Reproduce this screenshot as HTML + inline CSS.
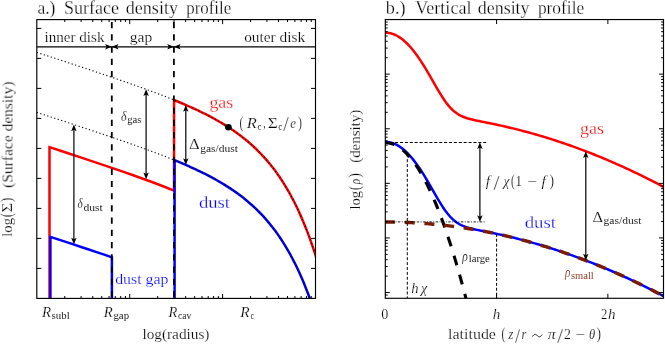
<!DOCTYPE html>
<html><head><meta charset="utf-8"><title>Density profiles</title>
<style>html,body{margin:0;padding:0;background:#fff}svg{display:block}text{font-family:"Liberation Serif",serif}</style></head>
<body>
<svg width="665" height="345" viewBox="0 0 665 345">
<rect width="665" height="345" fill="#fff"/>
<defs><clipPath id="c1"><rect x="36.80" y="19.60" width="278.70" height="278.80"/></clipPath><clipPath id="c2"><rect x="385.30" y="19.55" width="278.20" height="278.75"/></clipPath></defs>
<g clip-path="url(#c1)" fill="none" stroke-linejoin="miter">
<path d="M49.50,300.40 L49.50,147.15 L59.88,150.55 L70.26,153.96 L80.64,157.39 L91.02,160.84 L101.40,164.32 L111.78,167.83 L122.15,171.40 L132.53,175.02 L142.91,178.73 L153.29,182.54 L163.67,186.49 L174.05,190.61 L174.05,100.01 L176.44,100.99 L178.83,101.98 L181.22,102.98 L183.61,104.00 L186.00,105.04 L188.40,106.09 L190.79,107.15 L193.18,108.24 L195.57,109.34 L197.96,110.47 L200.35,111.61 L202.74,112.78 L205.13,113.98 L207.52,115.19 L209.91,116.44 L212.30,117.72 L214.69,119.02 L217.09,120.36 L219.48,121.73 L221.87,123.14 L224.26,124.59 L226.65,126.08 L229.04,127.61 L231.43,129.19 L233.82,130.82 L236.21,132.51 L238.60,134.24 L240.99,136.04 L243.38,137.90 L245.78,139.82 L248.17,141.82 L250.56,143.89 L252.95,146.04 L255.34,148.27 L257.73,150.60 L260.12,153.01 L262.51,155.53 L264.90,158.16 L267.29,160.89 L269.68,163.75 L272.07,166.74 L274.47,169.86 L276.86,173.12 L279.25,176.54 L281.64,180.11 L284.03,183.86 L286.42,187.79 L288.81,191.91 L291.20,196.24 L293.59,200.79 L295.98,205.56 L298.37,210.58 L300.76,215.86 L303.15,221.41 L305.55,227.26 L307.94,233.41 L310.33,239.89 L312.72,246.73 L315.11,253.93 L317.50,261.52" stroke="#ff0000" stroke-width="2.5"/>
<path d="M50.40,300.40 L50.40,236.85 L58.09,239.36 L65.78,241.89 L73.46,244.42 L81.15,246.96 L88.84,249.51 L96.53,252.08 L104.21,254.67 L111.90,257.28 L111.90,300.40" stroke="#0000ff" stroke-width="2.5"/>
<path d="M174.60,300.40 L174.60,160.23 L176.95,161.20 L179.30,162.17 L181.64,163.16 L183.99,164.17 L186.34,165.18 L188.69,166.22 L191.04,167.27 L193.39,168.33 L195.73,169.42 L198.08,170.53 L200.43,171.65 L202.78,172.80 L205.13,173.97 L207.48,175.17 L209.82,176.39 L212.17,177.65 L214.52,178.93 L216.87,180.24 L219.22,181.58 L221.57,182.96 L223.91,184.38 L226.26,185.84 L228.61,187.34 L230.96,188.88 L233.31,190.47 L235.66,192.11 L238.00,193.80 L240.35,195.55 L242.70,197.36 L245.05,199.23 L247.40,201.17 L249.75,203.18 L252.09,205.26 L254.44,207.43 L256.79,209.67 L259.14,212.01 L261.49,214.44 L263.84,216.97 L266.19,219.61 L268.53,222.36 L270.88,225.23 L273.23,228.23 L275.58,231.36 L277.93,234.63 L280.27,238.05 L282.62,241.64 L284.97,245.39 L287.32,249.32 L289.67,253.44 L292.02,257.77 L294.37,262.30 L296.71,267.07 L299.06,272.07 L301.41,277.33 L303.76,282.86 L306.11,288.67 L308.45,294.79 L310.80,301.22 L313.15,308.00 L315.50,315.14" stroke="#0000ff" stroke-width="2.5"/>
<path d="M111.80,298.40 L111.80,19.60" stroke="#000" stroke-width="1.8" stroke-dasharray="6.2 6.02" stroke-dashoffset="-1.3"/>
<path d="M173.90,298.40 L173.90,19.60" stroke="#000" stroke-width="1.8" stroke-dasharray="6.2 6.02" stroke-dashoffset="-1.3"/>
<path d="M36.80,52.41 L39.92,53.43 L43.04,54.44 L46.16,55.46 L49.28,56.48 L52.39,57.50 L55.51,58.52 L58.63,59.54 L61.75,60.56 L64.87,61.59 L67.99,62.61 L71.11,63.64 L74.23,64.67 L77.35,65.70 L80.46,66.73 L83.58,67.77 L86.70,68.80 L89.82,69.84 L92.94,70.88 L96.06,71.92 L99.18,72.97 L102.30,74.02 L105.42,75.07 L108.53,76.13 L111.65,77.19 L114.77,78.26 L117.89,79.33 L121.01,80.40 L124.13,81.48 L127.25,82.57 L130.37,83.66 L133.49,84.76 L136.60,85.87 L139.72,86.98 L142.84,88.10 L145.96,89.24 L149.08,90.38 L152.20,91.53 L155.32,92.70 L158.44,93.88 L161.56,95.07 L164.67,96.28 L167.79,97.50 L170.91,98.74 L174.03,100.00 L177.15,101.28 L180.27,102.58 L183.39,103.90 L186.51,105.26 L189.63,106.63 L192.74,108.04 L195.86,109.48 L198.98,110.96 L202.10,112.47 L205.22,114.02 L208.34,115.62 L211.46,117.26 L214.58,118.96 L217.70,120.71 L220.81,122.52 L223.93,124.39 L227.05,126.34 L230.17,128.36 L233.29,130.46 L236.41,132.65 L239.53,134.93 L242.65,137.32 L245.77,139.82 L248.88,142.43 L252.00,145.18 L255.12,148.07 L258.24,151.11 L261.36,154.31 L264.48,157.68 L267.60,161.25 L270.72,165.03 L273.84,169.02 L276.95,173.26 L280.07,177.75 L283.19,182.53 L286.31,187.61 L289.43,193.02 L292.55,198.78 L295.67,204.92 L298.79,211.47 L301.91,218.47 L305.02,225.95 L308.14,233.96 L311.26,242.52 L314.38,251.69 L317.50,261.52" stroke="#000" stroke-width="1.1" stroke-dasharray="1.2 2.46"/>
<path d="M36.80,112.41 L39.92,113.43 L43.04,114.44 L46.16,115.46 L49.28,116.48 L52.39,117.50 L55.51,118.52 L58.63,119.54 L61.75,120.56 L64.87,121.59 L67.99,122.61 L71.11,123.64 L74.23,124.67 L77.35,125.70 L80.46,126.73 L83.58,127.77 L86.70,128.80 L89.82,129.84 L92.94,130.88 L96.06,131.92 L99.18,132.97 L102.30,134.02 L105.42,135.07 L108.53,136.13 L111.65,137.19 L114.77,138.26 L117.89,139.33 L121.01,140.40 L124.13,141.48 L127.25,142.57 L130.37,143.66 L133.49,144.76 L136.60,145.87 L139.72,146.98 L142.84,148.10 L145.96,149.24 L149.08,150.38 L152.20,151.53 L155.32,152.70 L158.44,153.88 L161.56,155.07 L164.67,156.28 L167.79,157.50 L170.91,158.74 L174.03,160.00 L177.15,161.28 L180.27,162.58 L183.39,163.90 L186.51,165.26 L189.63,166.63 L192.74,168.04 L195.86,169.48 L198.98,170.96 L202.10,172.47 L205.22,174.02 L208.34,175.62 L211.46,177.26 L214.58,178.96 L217.70,180.71 L220.81,182.52 L223.93,184.39 L227.05,186.34 L230.17,188.36 L233.29,190.46 L236.41,192.65 L239.53,194.93 L242.65,197.32 L245.77,199.82 L248.88,202.43 L252.00,205.18 L255.12,208.07 L258.24,211.11 L261.36,214.31 L264.48,217.68 L267.60,221.25 L270.72,225.03 L273.84,229.02 L276.95,233.26 L280.07,237.75 L283.19,242.53 L286.31,247.61 L289.43,253.02 L292.55,258.78 L295.67,264.92 L298.79,271.47 L301.91,278.47 L305.02,285.95 L308.14,293.96 L311.26,302.52 L314.38,311.69 L317.50,321.52" stroke="#000" stroke-width="1.1" stroke-dasharray="1.2 2.46"/>
</g>
<line x1="36.80" y1="46.80" x2="111.80" y2="46.80" stroke="#000" stroke-width="1.2"/>
<polygon points="0,0 -2.7,6.7 0,5.2 2.7,6.7" transform="translate(111.80,46.80) rotate(90.0)" fill="#000"/>
<line x1="111.80" y1="46.80" x2="173.90" y2="46.80" stroke="#000" stroke-width="1.2"/>
<polygon points="0,0 -2.7,6.7 0,5.2 2.7,6.7" transform="translate(111.80,46.80) rotate(-90.0)" fill="#000"/>
<polygon points="0,0 -2.7,6.7 0,5.2 2.7,6.7" transform="translate(173.90,46.80) rotate(90.0)" fill="#000"/>
<line x1="173.90" y1="46.80" x2="315.50" y2="46.80" stroke="#000" stroke-width="1.2"/>
<polygon points="0,0 -2.7,6.7 0,5.2 2.7,6.7" transform="translate(173.90,46.80) rotate(-90.0)" fill="#000"/>
<line x1="146.10" y1="92.29" x2="146.10" y2="176.29" stroke="#000" stroke-width="1.2"/>
<polygon points="0,0 -2.7,6.7 0,5.2 2.7,6.7" transform="translate(146.10,89.29) rotate(0.0)" fill="#000"/>
<polygon points="0,0 -2.7,6.7 0,5.2 2.7,6.7" transform="translate(146.10,179.29) rotate(180.0)" fill="#000"/>
<line x1="73.90" y1="127.56" x2="73.90" y2="241.56" stroke="#000" stroke-width="1.2"/>
<polygon points="0,0 -2.7,6.7 0,5.2 2.7,6.7" transform="translate(73.90,124.56) rotate(0.0)" fill="#000"/>
<polygon points="0,0 -2.7,6.7 0,5.2 2.7,6.7" transform="translate(73.90,244.56) rotate(180.0)" fill="#000"/>
<line x1="185.80" y1="107.95" x2="185.80" y2="161.95" stroke="#000" stroke-width="1.2"/>
<polygon points="0,0 -2.7,6.7 0,5.2 2.7,6.7" transform="translate(185.80,104.95) rotate(0.0)" fill="#000"/>
<polygon points="0,0 -2.7,6.7 0,5.2 2.7,6.7" transform="translate(185.80,164.95) rotate(180.0)" fill="#000"/>
<circle cx="228.40" cy="127.20" r="3.3" fill="#000"/>
<rect x="36.80" y="19.60" width="278.70" height="278.80" fill="none" stroke="#000" stroke-width="1.15"/>
<path d="M64.77,298.40 v-2.40 M64.77,19.60 v2.40 M81.12,298.40 v-2.40 M81.12,19.60 v2.40 M92.73,298.40 v-2.40 M92.73,19.60 v2.40 M101.73,298.40 v-2.40 M101.73,19.60 v2.40 M109.09,298.40 v-2.40 M109.09,19.60 v2.40 M115.31,298.40 v-2.40 M115.31,19.60 v2.40 M120.70,298.40 v-2.40 M120.70,19.60 v2.40 M125.45,298.40 v-2.40 M125.45,19.60 v2.40 M129.70,298.40 v-4.50 M129.70,19.60 v4.50 M157.67,298.40 v-2.40 M157.67,19.60 v2.40 M174.02,298.40 v-2.40 M174.02,19.60 v2.40 M185.63,298.40 v-2.40 M185.63,19.60 v2.40 M194.63,298.40 v-2.40 M194.63,19.60 v2.40 M201.99,298.40 v-2.40 M201.99,19.60 v2.40 M208.21,298.40 v-2.40 M208.21,19.60 v2.40 M213.60,298.40 v-2.40 M213.60,19.60 v2.40 M218.35,298.40 v-2.40 M218.35,19.60 v2.40 M222.60,298.40 v-4.50 M222.60,19.60 v4.50 M250.57,298.40 v-2.40 M250.57,19.60 v2.40 M266.92,298.40 v-2.40 M266.92,19.60 v2.40 M278.53,298.40 v-2.40 M278.53,19.60 v2.40 M287.53,298.40 v-2.40 M287.53,19.60 v2.40 M294.89,298.40 v-2.40 M294.89,19.60 v2.40 M301.11,298.40 v-2.40 M301.11,19.60 v2.40 M306.50,298.40 v-2.40 M306.50,19.60 v2.40 M311.25,298.40 v-2.40 M311.25,19.60 v2.40 M36.80,268.40 h4.5 M315.50,268.40 h-4.5 M36.80,238.40 h4.5 M315.50,238.40 h-4.5 M36.80,208.40 h4.5 M315.50,208.40 h-4.5 M36.80,178.40 h4.5 M315.50,178.40 h-4.5 M36.80,148.40 h4.5 M315.50,148.40 h-4.5 M36.80,118.40 h4.5 M315.50,118.40 h-4.5 M36.80,88.40 h4.5 M315.50,88.40 h-4.5 M36.80,58.40 h4.5 M315.50,58.40 h-4.5 M36.80,28.40 h4.5 M315.50,28.40 h-4.5" stroke="#000" stroke-width="1" fill="none"/>
<g clip-path="url(#c2)" fill="none">
<path d="M385.30,32.68 L387.29,32.77 L389.29,33.05 L391.28,33.51 L393.28,34.15 L395.27,34.98 L397.27,35.98 L399.26,37.17 L401.25,38.54 L403.25,40.09 L405.24,41.82 L407.24,43.72 L409.23,45.79 L411.23,48.03 L413.22,50.44 L415.21,53.00 L417.21,55.72 L419.20,58.59 L421.20,61.59 L423.19,64.71 L425.19,67.95 L427.18,71.29 L429.17,74.70 L431.17,78.16 L433.16,81.65 L435.16,85.14 L437.15,88.59 L439.15,91.95 L441.14,95.21 L443.13,98.30 L445.13,101.21 L447.12,103.90 L449.12,106.34 L451.11,108.52 L453.11,110.45 L455.10,112.12 L457.09,113.57 L459.09,114.80 L461.08,115.85 L463.08,116.75 L465.07,117.52 L467.07,118.19 L469.06,118.78 L471.05,119.30 L473.05,119.79 L475.04,120.24 L477.04,120.66 L479.03,121.08 L481.03,121.48 L483.02,121.88 L485.01,122.27 L487.01,122.67 L489.00,123.07 L491.00,123.48 L492.99,123.89 L494.99,124.31 L496.98,124.74 L498.97,125.17 L500.97,125.61 L502.96,126.05 L504.96,126.50 L506.95,126.97 L508.95,127.43 L510.94,127.91 L512.93,128.39 L514.93,128.88 L516.92,129.38 L518.92,129.89 L520.91,130.40 L522.91,130.93 L524.90,131.45 L526.89,131.99 L528.89,132.54 L530.88,133.09 L532.88,133.65 L534.87,134.21 L536.87,134.79 L538.86,135.37 L540.85,135.96 L542.85,136.56 L544.84,137.17 L546.84,137.78 L548.83,138.40 L550.83,139.03 L552.82,139.66 L554.81,140.31 L556.81,140.96 L558.80,141.62 L560.80,142.28 L562.79,142.96 L564.79,143.64 L566.78,144.33 L568.77,145.02 L570.77,145.73 L572.76,146.44 L574.76,147.16 L576.75,147.89 L578.75,148.62 L580.74,149.36 L582.73,150.11 L584.73,150.87 L586.72,151.64 L588.72,152.41 L590.71,153.19 L592.71,153.98 L594.70,154.77 L596.69,155.58 L598.69,156.39 L600.68,157.21 L602.68,158.03 L604.67,158.87 L606.67,159.71 L608.66,160.56 L610.65,161.41 L612.65,162.28 L614.64,163.15 L616.64,164.03 L618.63,164.92 L620.63,165.81 L622.62,166.71 L624.61,167.62 L626.61,168.54 L628.60,169.46 L630.60,170.40 L632.59,171.34 L634.59,172.29 L636.58,173.24 L638.57,174.20 L640.57,175.18 L642.56,176.15 L644.56,177.14 L646.55,178.13 L648.55,179.13 L650.54,180.14 L652.53,181.16 L654.53,182.18 L656.52,183.22 L658.52,184.26 L660.51,185.30 L662.51,186.36 L664.50,187.42" stroke="#ff0000" stroke-width="2.5"/>
<path d="M385.30,141.88 L387.29,141.97 L389.29,142.25 L391.28,142.71 L393.28,143.35 L395.27,144.18 L397.27,145.18 L399.26,146.37 L401.25,147.74 L403.25,149.29 L405.24,151.02 L407.24,152.92 L409.23,154.99 L411.23,157.23 L413.22,159.64 L415.21,162.20 L417.21,164.92 L419.20,167.79 L421.20,170.79 L423.19,173.91 L425.19,177.15 L427.18,180.49 L429.17,183.90 L431.17,187.36 L433.16,190.85 L435.16,194.34 L437.15,197.79 L439.15,201.15 L441.14,204.41 L443.13,207.50 L445.13,210.41 L447.12,213.10 L449.12,215.54 L451.11,217.72 L453.11,219.65 L455.10,221.32 L457.09,222.77 L459.09,224.00 L461.08,225.05 L463.08,225.95 L465.07,226.72 L467.07,227.39 L469.06,227.98 L471.05,228.50 L473.05,228.99 L475.04,229.44 L477.04,229.86 L479.03,230.28 L481.03,230.68 L483.02,231.08 L485.01,231.47 L487.01,231.87 L489.00,232.27 L491.00,232.68 L492.99,233.09 L494.99,233.51 L496.98,233.94 L498.97,234.37 L500.97,234.81 L502.96,235.25 L504.96,235.70 L506.95,236.17 L508.95,236.63 L510.94,237.11 L512.93,237.59 L514.93,238.08 L516.92,238.58 L518.92,239.09 L520.91,239.60 L522.91,240.13 L524.90,240.65 L526.89,241.19 L528.89,241.74 L530.88,242.29 L532.88,242.85 L534.87,243.41 L536.87,243.99 L538.86,244.57 L540.85,245.16 L542.85,245.76 L544.84,246.37 L546.84,246.98 L548.83,247.60 L550.83,248.23 L552.82,248.86 L554.81,249.51 L556.81,250.16 L558.80,250.82 L560.80,251.48 L562.79,252.16 L564.79,252.84 L566.78,253.53 L568.77,254.22 L570.77,254.93 L572.76,255.64 L574.76,256.36 L576.75,257.09 L578.75,257.82 L580.74,258.56 L582.73,259.31 L584.73,260.07 L586.72,260.84 L588.72,261.61 L590.71,262.39 L592.71,263.18 L594.70,263.97 L596.69,264.78 L598.69,265.59 L600.68,266.41 L602.68,267.23 L604.67,268.07 L606.67,268.91 L608.66,269.76 L610.65,270.61 L612.65,271.48 L614.64,272.35 L616.64,273.23 L618.63,274.12 L620.63,275.01 L622.62,275.91 L624.61,276.82 L626.61,277.74 L628.60,278.66 L630.60,279.60 L632.59,280.54 L634.59,281.49 L636.58,282.44 L638.57,283.40 L640.57,284.38 L642.56,285.35 L644.56,286.34 L646.55,287.33 L648.55,288.33 L650.54,289.34 L652.53,290.36 L654.53,291.38 L656.52,292.42 L658.52,293.46 L660.51,294.50 L662.51,295.56 L664.50,296.62" stroke="#0000ff" stroke-width="2.5"/>
<path d="M385.30,142.70 L386.80,142.75 L388.30,142.92 L389.80,143.18 L391.30,143.56 L392.80,144.05 L394.30,144.64 L395.80,145.34 L397.30,146.15 L398.80,147.06 L400.30,148.08 L401.80,149.22 L403.30,150.45 L404.80,151.80 L406.30,153.25 L407.80,154.81 L409.30,156.48 L410.80,158.26 L412.30,160.15 L413.80,162.14 L415.30,164.24 L416.80,166.45 L418.30,168.76 L419.80,171.18 L421.30,173.71 L422.80,176.35 L424.30,179.10 L425.80,181.95 L427.30,184.91 L428.80,187.98 L430.30,191.16 L431.80,194.44 L433.30,197.84 L434.80,201.34 L436.30,204.94 L437.80,208.66 L439.30,212.48 L440.80,216.41 L442.30,220.45 L443.80,224.60 L445.30,228.85 L446.80,233.21 L448.30,237.68 L449.80,242.26 L451.30,246.94 L452.80,251.73 L454.30,256.63 L455.80,261.64 L457.30,266.76 L458.80,271.98 L460.30,277.31 L461.80,282.75 L463.30,288.30 L464.80,293.95 L466.30,299.71 L467.80,305.58 L469.30,311.56 L470.80,317.64 L472.30,323.83 L473.80,330.13 L475.30,336.54" stroke="#000" stroke-width="3.1" stroke-dasharray="10 9.8" stroke-dashoffset="0.6"/>
<path d="M385.30,222.00 L387.29,222.00 L389.29,222.02 L391.28,222.03 L393.28,222.06 L395.27,222.10 L397.27,222.14 L399.26,222.19 L401.25,222.24 L403.25,222.31 L405.24,222.38 L407.24,222.46 L409.23,222.55 L411.23,222.64 L413.22,222.75 L415.21,222.86 L417.21,222.97 L419.20,223.10 L421.20,223.23 L423.19,223.37 L425.19,223.52 L427.18,223.68 L429.17,223.84 L431.17,224.01 L433.16,224.19 L435.16,224.38 L437.15,224.57 L439.15,224.78 L441.14,224.98 L443.13,225.20 L445.13,225.43 L447.12,225.66 L449.12,225.90 L451.11,226.15 L453.11,226.40 L455.10,226.66 L457.09,226.93 L459.09,227.21 L461.08,227.50 L463.08,227.79 L465.07,228.09 L467.07,228.40 L469.06,228.72 L471.05,229.04 L473.05,229.37 L475.04,229.71 L477.04,230.06 L479.03,230.41 L481.03,230.77 L483.02,231.14 L485.01,231.52 L487.01,231.90 L489.00,232.29 L491.00,232.69 L492.99,233.10 L494.99,233.52 L496.98,233.94 L498.97,234.37 L500.97,234.81 L502.96,235.25 L504.96,235.71 L506.95,236.17 L508.95,236.63 L510.94,237.11 L512.93,237.59 L514.93,238.08 L516.92,238.58 L518.92,239.09 L520.91,239.60 L522.91,240.13 L524.90,240.65 L526.89,241.19 L528.89,241.74 L530.88,242.29 L532.88,242.85 L534.87,243.41 L536.87,243.99 L538.86,244.57 L540.85,245.16 L542.85,245.76 L544.84,246.37 L546.84,246.98 L548.83,247.60 L550.83,248.23 L552.82,248.86 L554.81,249.51 L556.81,250.16 L558.80,250.82 L560.80,251.48 L562.79,252.16 L564.79,252.84 L566.78,253.53 L568.77,254.22 L570.77,254.93 L572.76,255.64 L574.76,256.36 L576.75,257.09 L578.75,257.82 L580.74,258.56 L582.73,259.31 L584.73,260.07 L586.72,260.84 L588.72,261.61 L590.71,262.39 L592.71,263.18 L594.70,263.97 L596.69,264.78 L598.69,265.59 L600.68,266.41 L602.68,267.23 L604.67,268.07 L606.67,268.91 L608.66,269.76 L610.65,270.61 L612.65,271.48 L614.64,272.35 L616.64,273.23 L618.63,274.12 L620.63,275.01 L622.62,275.91 L624.61,276.82 L626.61,277.74 L628.60,278.66 L630.60,279.60 L632.59,280.54 L634.59,281.49 L636.58,282.44 L638.57,283.40 L640.57,284.38 L642.56,285.35 L644.56,286.34 L646.55,287.33 L648.55,288.33 L650.54,289.34 L652.53,290.36 L654.53,291.38 L656.52,292.42 L658.52,293.46 L660.51,294.50 L662.51,295.56 L664.50,296.62" stroke="#7a1b02" stroke-width="3.4" stroke-dasharray="10 9.75" stroke-dashoffset="0.3"/>
<path d="M385.30,142.5 H486.2" stroke="#000" stroke-width="1" stroke-dasharray="3 1.9"/>
<path d="M385.30,221.9 H486.2" stroke="#000" stroke-width="0.9" stroke-dasharray="2.4 1.5 0.9 1.5"/>
<path d="M407.3,154.28 V298.30" stroke="#000" stroke-width="1" stroke-dasharray="3 1.9"/>
<path d="M496.6,233.86 V298.30" stroke="#000" stroke-width="1" stroke-dasharray="3 1.9"/>
</g>
<line x1="479.90" y1="145.30" x2="479.90" y2="218.90" stroke="#000" stroke-width="1.2"/>
<polygon points="0,0 -2.7,6.7 0,5.2 2.7,6.7" transform="translate(479.90,142.30) rotate(0.0)" fill="#000"/>
<polygon points="0,0 -2.7,6.7 0,5.2 2.7,6.7" transform="translate(479.90,221.90) rotate(180.0)" fill="#000"/>
<line x1="585.80" y1="154.28" x2="585.80" y2="257.48" stroke="#000" stroke-width="1.2"/>
<polygon points="0,0 -2.7,6.7 0,5.2 2.7,6.7" transform="translate(585.80,151.28) rotate(0.0)" fill="#000"/>
<polygon points="0,0 -2.7,6.7 0,5.2 2.7,6.7" transform="translate(585.80,260.48) rotate(180.0)" fill="#000"/>
<rect x="385.30" y="19.55" width="278.20" height="278.75" fill="none" stroke="#000" stroke-width="1.15"/>
<path d="M496.58,298.30 v-4.5 M496.58,19.55 v4.5 M607.86,298.30 v-4.5 M607.86,19.55 v4.5 M385.30,74.15 h4.50 M663.50,74.15 h-4.50 M385.30,57.71 h2.40 M663.50,57.71 h-2.40 M385.30,48.10 h2.40 M663.50,48.10 h-2.40 M385.30,41.28 h2.40 M663.50,41.28 h-2.40 M385.30,35.99 h2.40 M663.50,35.99 h-2.40 M385.30,31.66 h2.40 M663.50,31.66 h-2.40 M385.30,28.01 h2.40 M663.50,28.01 h-2.40 M385.30,24.84 h2.40 M663.50,24.84 h-2.40 M385.30,22.05 h2.40 M663.50,22.05 h-2.40 M385.30,128.75 h4.50 M663.50,128.75 h-4.50 M385.30,112.31 h2.40 M663.50,112.31 h-2.40 M385.30,102.70 h2.40 M663.50,102.70 h-2.40 M385.30,95.88 h2.40 M663.50,95.88 h-2.40 M385.30,90.59 h2.40 M663.50,90.59 h-2.40 M385.30,86.26 h2.40 M663.50,86.26 h-2.40 M385.30,82.61 h2.40 M663.50,82.61 h-2.40 M385.30,79.44 h2.40 M663.50,79.44 h-2.40 M385.30,76.65 h2.40 M663.50,76.65 h-2.40 M385.30,183.35 h4.50 M663.50,183.35 h-4.50 M385.30,166.91 h2.40 M663.50,166.91 h-2.40 M385.30,157.30 h2.40 M663.50,157.30 h-2.40 M385.30,150.48 h2.40 M663.50,150.48 h-2.40 M385.30,145.19 h2.40 M663.50,145.19 h-2.40 M385.30,140.86 h2.40 M663.50,140.86 h-2.40 M385.30,137.21 h2.40 M663.50,137.21 h-2.40 M385.30,134.04 h2.40 M663.50,134.04 h-2.40 M385.30,131.25 h2.40 M663.50,131.25 h-2.40 M385.30,237.95 h4.50 M663.50,237.95 h-4.50 M385.30,221.51 h2.40 M663.50,221.51 h-2.40 M385.30,211.90 h2.40 M663.50,211.90 h-2.40 M385.30,205.08 h2.40 M663.50,205.08 h-2.40 M385.30,199.79 h2.40 M663.50,199.79 h-2.40 M385.30,195.46 h2.40 M663.50,195.46 h-2.40 M385.30,191.81 h2.40 M663.50,191.81 h-2.40 M385.30,188.64 h2.40 M663.50,188.64 h-2.40 M385.30,185.85 h2.40 M663.50,185.85 h-2.40 M385.30,292.55 h4.50 M663.50,292.55 h-4.50 M385.30,276.11 h2.40 M663.50,276.11 h-2.40 M385.30,266.50 h2.40 M663.50,266.50 h-2.40 M385.30,259.68 h2.40 M663.50,259.68 h-2.40 M385.30,254.39 h2.40 M663.50,254.39 h-2.40 M385.30,250.06 h2.40 M663.50,250.06 h-2.40 M385.30,246.41 h2.40 M663.50,246.41 h-2.40 M385.30,243.24 h2.40 M663.50,243.24 h-2.40 M385.30,240.45 h2.40 M663.50,240.45 h-2.40 M385.30,295.05 h2.40 M663.50,295.05 h-2.40" stroke="#000" stroke-width="1" fill="none"/>
<path d="M532.4,336.6 C534.2,333.6 535.9,333.9 537.3,335.6 C538.7,337.3 540.4,337.6 542.2,334.6" fill="none" stroke="#111" stroke-width="0.9"/>
<g opacity="0.996" stroke="#fff">
<text transform="translate(37.40,14.40) scale(0.9735,1)" font-size="18.00" fill="#000" stroke-width="0.26">a.)</text>
<text transform="translate(64.00,14.40) scale(1.0041,1)" font-size="18.00" fill="#000" stroke-width="0.26">Surface</text>
<text transform="translate(125.80,14.40) scale(1.0039,1)" font-size="18.00" fill="#000" stroke-width="0.26">density</text>
<text transform="translate(186.20,14.40) scale(0.9377,1)" font-size="18.00" fill="#000" stroke-width="0.26">profile</text>
<text transform="translate(44.60,42.20) scale(1.0405,1)" font-size="14.50" fill="#000" stroke-width="0.20">inner disk</text>
<text transform="translate(129.70,41.90) scale(1.0732,1)" font-size="14.50" fill="#000" stroke-width="0.20">gap</text>
<text transform="translate(244.20,42.30) scale(1.0593,1)" font-size="14.50" fill="#000" stroke-width="0.20">outer disk</text>
<text transform="translate(209.40,107.80) scale(1.0339,1)" font-size="17.30" fill="#ff0000" stroke-width="0.26">gas</text>
<text transform="translate(239.50,127.80) scale(0.6667,1)" font-size="17.00" fill="#000" stroke-width="0.26">(</text>
<text transform="translate(246.84,127.80) scale(1.1400,1)" font-size="14.50" font-style="italic" fill="#000" stroke-width="0.20">R</text>
<text transform="translate(257.60,129.60) scale(0.8800,1)" font-size="10.10" fill="#000" stroke-width="0.06">c</text>
<text transform="translate(263.20,127.80) scale(0.6667,1)" font-size="14.50" fill="#000" stroke-width="0.20">,</text>
<text transform="translate(267.70,127.80) scale(1.2000,1)" font-size="14.50" fill="#000" stroke-width="0.20">Σ</text>
<text transform="translate(278.20,129.60) scale(0.8800,1)" font-size="10.10" fill="#000" stroke-width="0.06">c</text>
<text transform="translate(283.20,131.10) scale(0.9667,1)" font-size="20.50" fill="#000" stroke-width="0.26">/</text>
<text transform="translate(290.20,127.80) scale(0.8857,1)" font-size="14.50" font-style="italic" fill="#000" stroke-width="0.20">e</text>
<text transform="translate(298.00,127.80) scale(0.7000,1)" font-size="17.00" fill="#000" stroke-width="0.26">)</text>
<text transform="translate(121.00,121.40) scale(0.8286,1)" font-size="14.50" font-style="italic" fill="#000" stroke-width="0.20">δ</text>
<text transform="translate(127.30,123.40) scale(1.0498,1)" font-size="10.10" fill="#000" stroke-width="0.06">gas</text>
<text transform="translate(188.90,149.40) scale(1.1444,1)" font-size="14.50" fill="#000" stroke-width="0.20">Δ</text>
<text transform="translate(200.30,152.10) scale(1.1358,1)" font-size="10.10" fill="#000" stroke-width="0.06">gas/dust</text>
<text transform="translate(77.40,208.20) scale(0.7714,1)" font-size="14.50" font-style="italic" fill="#000" stroke-width="0.20">δ</text>
<text transform="translate(83.40,210.50) scale(1.1456,1)" font-size="10.10" fill="#000" stroke-width="0.06">dust</text>
<text transform="translate(198.90,208.20) scale(1.0791,1)" font-size="17.30" fill="#0000ff" stroke-width="0.26">dust</text>
<text transform="translate(115.20,283.50) scale(1.0932,1)" font-size="14.50" fill="#0000ff" stroke-width="0.20">dust gap</text>
<text transform="translate(42.03,316.80) scale(1.0300,1)" font-size="14.50" font-style="italic" fill="#000" stroke-width="0.20">R</text>
<text transform="translate(51.60,318.60) scale(1.0751,1)" font-size="10.10" fill="#000" stroke-width="0.06">subl</text>
<text transform="translate(103.72,316.80) scale(1.0200,1)" font-size="14.50" font-style="italic" fill="#000" stroke-width="0.20">R</text>
<text transform="translate(113.40,318.60) scale(1.0739,1)" font-size="10.10" fill="#000" stroke-width="0.06">gap</text>
<text transform="translate(168.50,316.80) scale(1.0000,1)" font-size="14.50" font-style="italic" fill="#000" stroke-width="0.20">R</text>
<text transform="translate(178.00,318.60) scale(0.9425,1)" font-size="10.10" fill="#000" stroke-width="0.06">cav</text>
<text transform="translate(240.36,316.80) scale(1.0600,1)" font-size="14.50" font-style="italic" fill="#000" stroke-width="0.20">R</text>
<text transform="translate(250.40,318.60) scale(0.7800,1)" font-size="10.10" fill="#000" stroke-width="0.06">c</text>
<text transform="translate(142.40,339.40) scale(1.0550,1)" font-size="14.50" fill="#000" stroke-width="0.20">log(radius)</text>
<text transform="translate(385.80,14.40) scale(1.0154,1)" font-size="18.00" fill="#000" stroke-width="0.26">b.)</text>
<text transform="translate(415.20,14.40) scale(1.0059,1)" font-size="18.00" fill="#000" stroke-width="0.26">Vertical</text>
<text transform="translate(477.80,14.40) scale(0.9962,1)" font-size="18.00" fill="#000" stroke-width="0.26">density</text>
<text transform="translate(537.90,14.40) scale(0.9648,1)" font-size="18.00" fill="#000" stroke-width="0.26">profile</text>
<text transform="translate(580.00,134.00) scale(1.0381,1)" font-size="17.30" fill="#ff0000" stroke-width="0.26">gas</text>
<text transform="translate(485.80,186.30) scale(1.0667,1)" font-size="14.50" font-style="italic" fill="#000" stroke-width="0.20">f</text>
<text transform="translate(493.60,189.60) scale(1.0500,1)" font-size="20.50" fill="#000" stroke-width="0.26">/</text>
<text transform="translate(503.57,186.30) scale(0.9333,1)" font-size="14.50" font-style="italic" fill="#000" stroke-width="0.20">χ</text>
<text transform="translate(511.00,186.30) scale(0.6500,1)" font-size="17.00" fill="#000" stroke-width="0.26">(</text>
<text transform="translate(515.37,186.30) scale(0.9333,1)" font-size="14.50" fill="#000" stroke-width="0.20">1</text>
<text transform="translate(527.20,186.30) scale(1.1750,1)" font-size="14.50" fill="#000" stroke-width="0.20">−</text>
<text transform="translate(541.40,186.30) scale(1.1000,1)" font-size="14.50" font-style="italic" fill="#000" stroke-width="0.20">f</text>
<text transform="translate(549.40,186.30) scale(0.8000,1)" font-size="17.00" fill="#000" stroke-width="0.26">)</text>
<text transform="translate(524.70,228.40) scale(1.0894,1)" font-size="17.30" fill="#0000ff" stroke-width="0.26">dust</text>
<text transform="translate(592.50,221.70) scale(1.1222,1)" font-size="14.50" fill="#000" stroke-width="0.20">Δ</text>
<text transform="translate(603.60,224.30) scale(1.1418,1)" font-size="10.10" fill="#000" stroke-width="0.06">gas/dust</text>
<text transform="translate(462.20,261.00) scale(0.8000,1)" font-size="14.50" font-style="italic" fill="#000" stroke-width="0.20">ρ</text>
<text transform="translate(468.70,262.30) scale(1.0580,1)" font-size="10.10" fill="#000" stroke-width="0.06">large</text>
<text transform="translate(564.88,276.50) scale(0.7750,1)" font-size="14.50" font-style="italic" fill="#7a1b02" stroke-width="0.20">ρ</text>
<text transform="translate(571.00,278.80) scale(1.0424,1)" font-size="10.10" fill="#7a1b02" stroke-width="0.06">small</text>
<text transform="translate(411.20,292.80) scale(1.0143,1)" font-size="14.50" font-style="italic" fill="#000" stroke-width="0.20">h</text>
<text transform="translate(421.06,292.80) scale(0.9778,1)" font-size="14.50" font-style="italic" fill="#000" stroke-width="0.20">χ</text>
<text transform="translate(381.30,319.10) scale(0.9714,1)" font-size="14.50" fill="#000" stroke-width="0.20">0</text>
<text transform="translate(492.80,318.90) scale(1.0429,1)" font-size="14.50" font-style="italic" fill="#000" stroke-width="0.20">h</text>
<text transform="translate(600.90,319.00) scale(0.8714,1)" font-size="14.50" fill="#000" stroke-width="0.20">2</text>
<text transform="translate(608.10,319.00) scale(1.0429,1)" font-size="14.50" font-style="italic" fill="#000" stroke-width="0.20">h</text>
<text transform="translate(448.10,339.40) scale(1.1010,1)" font-size="14.50" fill="#000" stroke-width="0.20">latitude</text>
<text transform="translate(501.60,339.40) scale(0.6667,1)" font-size="17.00" fill="#000" stroke-width="0.26">(</text>
<text transform="translate(508.30,339.40) scale(0.9000,1)" font-size="14.50" font-style="italic" fill="#000" stroke-width="0.20">z</text>
<text transform="translate(515.10,342.70) scale(0.9000,1)" font-size="20.50" fill="#000" stroke-width="0.26">/</text>
<text transform="translate(521.50,339.40) scale(0.8500,1)" font-size="14.50" font-style="italic" fill="#000" stroke-width="0.20">r</text>
<text transform="translate(547.70,339.40) scale(1.1000,1)" font-size="14.50" font-style="italic" fill="#000" stroke-width="0.20">π</text>
<text transform="translate(557.20,342.70) scale(1.0167,1)" font-size="20.50" fill="#000" stroke-width="0.26">/</text>
<text transform="translate(564.00,339.40) scale(0.9571,1)" font-size="14.50" fill="#000" stroke-width="0.20">2</text>
<text transform="translate(575.20,339.40) scale(1.1750,1)" font-size="14.50" fill="#000" stroke-width="0.20">−</text>
<text transform="translate(589.00,339.40) scale(0.8714,1)" font-size="14.50" font-style="italic" fill="#000" stroke-width="0.20">θ</text>
<text transform="translate(596.50,339.40) scale(0.8000,1)" font-size="17.00" fill="#000" stroke-width="0.26">)</text>
<text transform="translate(12.40,236.70) rotate(-90) scale(1.0066,1)" font-size="14.50" fill="#000" stroke-width="0.20">log</text>
<text transform="translate(12.40,217.10) rotate(-90) scale(0.6500,1)" font-size="17.00" fill="#000" stroke-width="0.26">(</text>
<text transform="translate(12.40,212.50) rotate(-90) scale(1.1500,1)" font-size="14.50" fill="#000" stroke-width="0.20">Σ</text>
<text transform="translate(12.40,202.30) rotate(-90) scale(0.8200,1)" font-size="17.00" fill="#000" stroke-width="0.26">)</text>
<text transform="translate(12.50,187.80) rotate(-90) scale(1.0691,1)" font-size="14.50" fill="#000" stroke-width="0.20">(Surface density)</text>
<text transform="translate(360.40,209.60) rotate(-90) scale(1.0121,1)" font-size="14.50" fill="#000" stroke-width="0.20">log</text>
<text transform="translate(360.40,189.90) rotate(-90) scale(0.7000,1)" font-size="17.00" fill="#000" stroke-width="0.26">(</text>
<text transform="translate(360.40,184.22) rotate(-90) scale(0.7750,1)" font-size="14.50" font-style="italic" fill="#000" stroke-width="0.20">ρ</text>
<text transform="translate(360.40,177.80) rotate(-90) scale(0.8200,1)" font-size="17.00" fill="#000" stroke-width="0.26">)</text>
<text transform="translate(360.40,162.80) rotate(-90) scale(1.0287,1)" font-size="14.50" fill="#000" stroke-width="0.20">(density)</text>
</g>
</svg>
</body></html>
